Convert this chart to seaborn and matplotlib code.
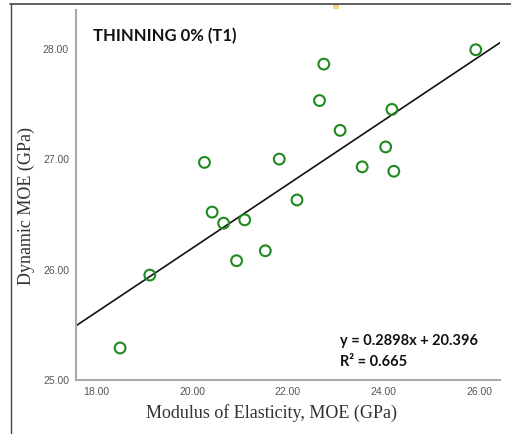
import matplotlib
matplotlib.use("Agg")
import matplotlib.pyplot as plt
import seaborn as sns
import pandas as pd
import numpy as np
from matplotlib.lines import Line2D
from matplotlib.patches import Rectangle

# Data
moe_static = [18.50, 19.12, 20.26, 20.42, 20.66, 21.10, 20.93, 21.53, 21.82,
              22.19, 22.66, 22.75, 23.09, 23.55, 24.04, 24.17, 24.21, 25.92]
moe_dynamic = [25.29, 25.95, 26.97, 26.52, 26.42, 26.45, 26.08, 26.17, 27.00,
               26.63, 27.53, 27.86, 27.26, 26.93, 27.11, 27.45, 26.89, 27.99]
slope = 0.2898
intercept = 20.396
r2 = 0.665
x_ticks = [18, 20, 22, 24, 26]
y_ticks = [25, 26, 27, 28]
title = "THINNING 0% (T1)"

sns.set_style("white")
df = pd.DataFrame({"MOE": moe_static, "DMOE": moe_dynamic})

fig = plt.figure(figsize=(5.11, 4.34), dpi=100)
ax = fig.add_axes([0.1487, 0.1244, 0.978 - 0.1487, 0.977 - 0.1244])

xlim = (17.58, 26.42)
ylim = (25.0, 28.35)

sns.scatterplot(data=df, x="MOE", y="DMOE", ax=ax, marker="o", s=60,
                facecolors="none", edgecolor="#1f8a1f", linewidth=1.5, zorder=3)

xs = np.array(xlim)
ax.plot(xs, slope * xs + intercept, color="#111111", linewidth=1.2, zorder=2)

ax.set_xlim(*xlim)
ax.set_ylim(*ylim)
ax.set_xticks(x_ticks)
ax.set_yticks(y_ticks)
ax.set_xticklabels([f"{v:.2f}" for v in x_ticks])
ax.set_yticklabels([f"{v:.2f}" for v in y_ticks])
ax.tick_params(axis="both", length=0, pad=5, labelsize=7.5, labelcolor="#555555")
for lbl in ax.get_xticklabels() + ax.get_yticklabels():
    lbl.set_family("Liberation Sans")

for side in ["top", "right"]:
    ax.spines[side].set_visible(False)
for side in ["left", "bottom"]:
    ax.spines[side].set_color("#aaaaaa")
    ax.spines[side].set_linewidth(1.5)

ax.set_xlabel("Modulus of Elasticity, MOE (GPa)", family="Liberation Serif",
              fontsize=13, color="#333333", labelpad=5)
ax.xaxis.label.set_x(0.462)
ax.set_ylabel("Dynamic MOE (GPa)", family="Liberation Serif",
              fontsize=13, color="#333333", labelpad=6)
ax.yaxis.label.set_y(0.47)

ax.text(0.04, 0.93, title, transform=ax.transAxes, fontsize=12,
        fontweight="bold", family="Lato", color="#111111", va="center")
ax.text(0.623, 0.105, f"y = {slope}x + {intercept}", transform=ax.transAxes,
        fontsize=10.5, fontweight="bold", family="Lato", color="#111111", va="center")
ax.text(0.623, 0.05, f"R\u00b2 = {r2}", transform=ax.transAxes,
        fontsize=10.5, fontweight="bold", family="Lato", color="#111111", va="center")

# frame lines from the screenshot
fig.add_artist(Line2D([10 / 511, 1.0], [1 - 4 / 434, 1 - 4 / 434],
                      transform=fig.transFigure, color="#444444", linewidth=1.2))
fig.add_artist(Line2D([11 / 511, 11 / 511], [0, 1 - 4 / 434],
                      transform=fig.transFigure, color="#444444", linewidth=1.0))
fig.add_artist(Rectangle((333 / 511, 1 - 9 / 434), 6 / 511, 5 / 434,
                         transform=fig.transFigure, color="#f5d67a", linewidth=0))

fig.savefig("out.png", dpi=100)
